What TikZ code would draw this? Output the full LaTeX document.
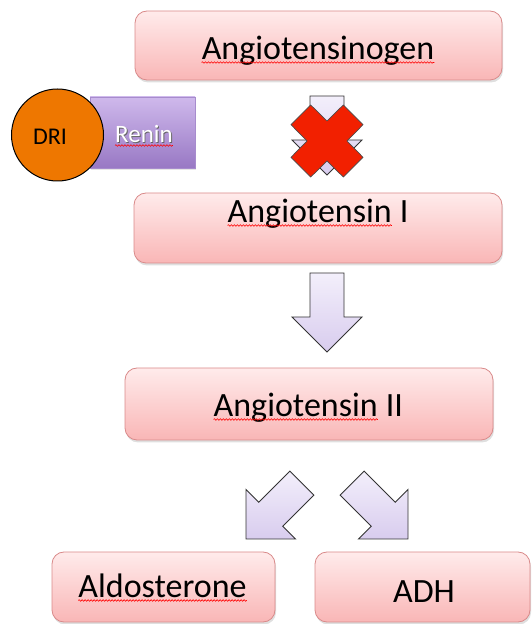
\documentclass[tikz,border=0pt]{standalone}
\usepackage{fontspec}
\setmainfont{Carlito}
\usepackage{tikz}
\usetikzlibrary{shadows,positioning,decorations.pathmorphing}
\definecolor{boxtop}{HTML}{FFEBEB}
\definecolor{boxbottom}{HTML}{F9B6B6}
\definecolor{boxline}{HTML}{D98A8A}
\definecolor{arrowtop}{HTML}{F3EFFB}
\definecolor{arrowbottom}{HTML}{D8CCEE}
\definecolor{reninlight}{HTML}{CFB9EC}
\definecolor{renindark}{HTML}{9878C4}
\definecolor{driorange}{HTML}{EE7700}
\definecolor{blockred}{HTML}{F22000}
\newcommand{\squiggle}[1]{\draw[spellmark] ([yshift=-2.5pt]#1.base west) -- ([yshift=-2.5pt]#1.base east);}

\tikzset{
  pathbox/.style={draw=boxline, line width=0.8pt, rounded corners=12pt,
    top color=boxtop, bottom color=boxbottom, inner sep=0pt,
    drop shadow={shadow xshift=1pt, shadow yshift=-2.5pt, opacity=0.25}},
  boxtext/.style={anchor=base, inner sep=0pt, font=\fontsize{34}{40}\selectfont},
  spellmark/.style={red, line width=0.6pt, decorate,
    decoration={snake, amplitude=0.8pt, segment length=3pt}},
  blockarrow/.pic={
    \draw[draw=black!80, line width=0.9pt, top color=arrowtop, bottom color=arrowbottom]
      (0,0) -- (35,35) -- (17,35) -- (17,79) -- (-17,79) -- (-17,35) -- (-35,35) -- cycle;}
}

\begin{document}
\begin{tikzpicture}[x=1pt, y=1pt]
  \useasboundingbox (0,0) rectangle (531,624);

  % pathway boxes
  \node[pathbox, minimum width=367pt, minimum height=69pt] (gen) at (318.5,578.5) {};
  \node[pathbox, minimum width=368pt, minimum height=70pt] (ang1) at (318,396) {};
  \node[pathbox, minimum width=368pt, minimum height=72pt] (ang2) at (309,220) {};
  \node[pathbox, minimum width=223pt, minimum height=70pt] (aldo) at (163.5,37) {};
  \node[pathbox, minimum width=215pt, minimum height=70pt] (adh) at (422.5,37) {};

  \node[boxtext] (gentxt) at (318,564) {Angiotensinogen};
  \node[boxtext, anchor=base west] (ang1word) at (227.5,401) {Angiotensin};
  \node[boxtext, anchor=base west] (ang1num) at ([xshift=7.7pt]ang1word.base east) {I};
  \node[boxtext, anchor=base west] (ang2word) at (213.5,207) {Angiotensin};
  \node[boxtext, anchor=base west] (ang2num) at ([xshift=7.7pt]ang2word.base east) {II};
  \node[boxtext] (aldotxt) at (162.5,26) {Aldosterone};
  \node[boxtext] (adhtxt) at (424,21) {ADH};
  \squiggle{gentxt}
  \squiggle{ang1word}
  \squiggle{ang2word}
  \squiggle{aldotxt}

  % renin with the inhibitor on it
  \node[draw=renindark!85, line width=0.6pt, top color=reninlight, bottom color=renindark,
    minimum width=105pt, minimum height=71pt, inner sep=0pt,
    drop shadow={shadow xshift=1pt, shadow yshift=-2pt, opacity=0.2}] (renin) at (142.5,491.5) {};
  \node[anchor=base, inner sep=0pt, text=black!60, font=\fontsize{25}{30}\selectfont]
    (reninshade) at (144.9,480.3) {Renin};
  \node[anchor=base, inner sep=0pt, text=white, font=\fontsize{25}{30}\selectfont]
    (renintxt) at (144,481) {Renin};
  \squiggle{renintxt}
  \node[circle, draw=black, line width=1pt, fill=driorange, minimum size=92pt, inner sep=0pt]
    (dri) at (57.5,489) {};
  \node[anchor=base, inner sep=0pt, font=\fontsize{24}{28}\selectfont] (dritxt) at (50,479) {DRI};

  % block arrows
  \pic at (327,449) {blockarrow};
  \draw[draw=black!70, line width=0.7pt, fill=blockred, shift={(327,483)}]
    (0,20) -- (16.3,36) -- (36,16.3) -- (20,0) -- (36,-16.3) -- (16.3,-36)
    -- (0,-20) -- (-16.3,-36) -- (-36,-16.3) -- (-20,0) -- (-36,16.3) -- (-16.3,36) -- cycle;
  \pic at (327,272) {blockarrow};
  \pic[rotate=-45] at (246,85) {blockarrow};
  \pic[rotate=45] at (408,85) {blockarrow};
\end{tikzpicture}
\end{document}
